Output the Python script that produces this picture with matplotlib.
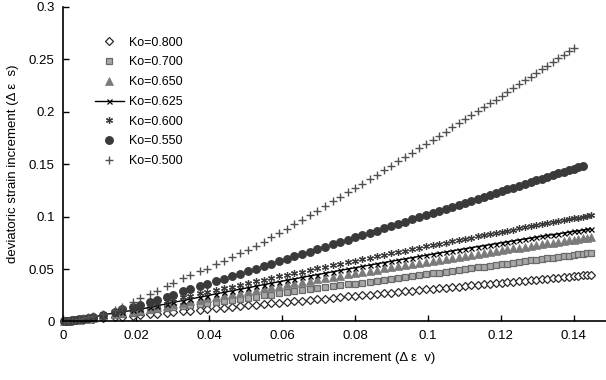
import matplotlib
matplotlib.use("Agg")
import matplotlib.pyplot as plt

plt.rcParams['font.family'] = ['Liberation Sans', 'DejaVu Sans']

# shared volumetric strain increment values (x)
dev_x = [0.0004, 0.0010, 0.0017, 0.0025, 0.0034, 0.0044, 0.0055, 0.0068, 0.0082,
         0.0110, 0.0142, 0.0161, 0.0192, 0.0211, 0.0238, 0.0258, 0.0285, 0.0302,
         0.0329, 0.0348, 0.0375, 0.0394, 0.0418, 0.0440, 0.0462, 0.0484, 0.0506,
         0.0528, 0.0550, 0.0571, 0.0592, 0.0613, 0.0634, 0.0655, 0.0676, 0.0697,
         0.0718, 0.0739, 0.0760, 0.0780, 0.0800, 0.0820, 0.0840, 0.0860, 0.0880,
         0.0900, 0.0919, 0.0938, 0.0957, 0.0976, 0.0995, 0.1013, 0.1031, 0.1049,
         0.1067, 0.1085, 0.1102, 0.1119, 0.1136, 0.1153, 0.1170, 0.1186, 0.1202,
         0.1218, 0.1234, 0.1250, 0.1266, 0.1282, 0.1297, 0.1312, 0.1327, 0.1342,
         0.1357, 0.1372, 0.1386, 0.1400, 0.1412, 0.1424, 0.1436, 0.1446]

y_k800 = [0.0001, 0.0003, 0.0005, 0.0007, 0.0010, 0.0013, 0.0016, 0.0020, 0.0024,
          0.0032, 0.0042, 0.0046, 0.0056, 0.0062, 0.0070, 0.0076, 0.0085, 0.0090,
          0.0098, 0.0104, 0.0113, 0.0119, 0.0126, 0.0133, 0.0140, 0.0147, 0.0153,
          0.0160, 0.0167, 0.0174, 0.0180, 0.0187, 0.0193, 0.0200, 0.0206, 0.0213,
          0.0219, 0.0226, 0.0232, 0.0239, 0.0245, 0.0251, 0.0257, 0.0263, 0.0270,
          0.0276, 0.0282, 0.0288, 0.0294, 0.0300, 0.0305, 0.0311, 0.0317, 0.0322,
          0.0328, 0.0333, 0.0339, 0.0344, 0.0349, 0.0355, 0.0360, 0.0365, 0.0370,
          0.0375, 0.0380, 0.0385, 0.0390, 0.0395, 0.0399, 0.0404, 0.0409, 0.0413,
          0.0418, 0.0423, 0.0427, 0.0431, 0.0435, 0.0439, 0.0443, 0.0446]

y_k700 = [0.0001, 0.0004, 0.0006, 0.0009, 0.0013, 0.0017, 0.0021, 0.0026, 0.0031,
          0.0052, 0.0065, 0.0073, 0.0085, 0.0093, 0.0106, 0.0115, 0.0127, 0.0135,
          0.0147, 0.0156, 0.0168, 0.0177, 0.0188, 0.0198, 0.0208, 0.0218, 0.0228,
          0.0238, 0.0248, 0.0257, 0.0267, 0.0277, 0.0286, 0.0296, 0.0305, 0.0315,
          0.0324, 0.0334, 0.0344, 0.0353, 0.0362, 0.0371, 0.0380, 0.0389, 0.0398,
          0.0407, 0.0416, 0.0425, 0.0433, 0.0442, 0.0451, 0.0459, 0.0467, 0.0475,
          0.0484, 0.0492, 0.0500, 0.0507, 0.0515, 0.0523, 0.0531, 0.0538, 0.0545,
          0.0552, 0.0560, 0.0567, 0.0574, 0.0582, 0.0588, 0.0595, 0.0602, 0.0609,
          0.0616, 0.0623, 0.0629, 0.0635, 0.0641, 0.0646, 0.0652, 0.0656]

y_k650 = [0.0002, 0.0004, 0.0007, 0.0010, 0.0014, 0.0018, 0.0023, 0.0028, 0.0034,
          0.0060, 0.0075, 0.0086, 0.0098, 0.0105, 0.0122, 0.0135, 0.0152, 0.0163,
          0.0180, 0.0192, 0.0208, 0.0220, 0.0235, 0.0249, 0.0262, 0.0275, 0.0289,
          0.0302, 0.0315, 0.0328, 0.0340, 0.0353, 0.0365, 0.0377, 0.0390, 0.0402,
          0.0414, 0.0426, 0.0438, 0.0450, 0.0461, 0.0472, 0.0484, 0.0495, 0.0506,
          0.0518, 0.0528, 0.0539, 0.0549, 0.0560, 0.0570, 0.0580, 0.0590, 0.0599,
          0.0609, 0.0619, 0.0628, 0.0637, 0.0646, 0.0655, 0.0664, 0.0672, 0.0680,
          0.0689, 0.0697, 0.0705, 0.0713, 0.0722, 0.0729, 0.0737, 0.0745, 0.0752,
          0.0760, 0.0767, 0.0774, 0.0781, 0.0787, 0.0793, 0.0799, 0.0804]

y_k625 = [0.0002, 0.0004, 0.0007, 0.0011, 0.0015, 0.0019, 0.0024, 0.0030, 0.0037,
          0.0065, 0.0080, 0.0093, 0.0105, 0.0116, 0.0135, 0.0150, 0.0169, 0.0181,
          0.0200, 0.0213, 0.0232, 0.0245, 0.0262, 0.0277, 0.0292, 0.0307, 0.0321,
          0.0336, 0.0351, 0.0365, 0.0379, 0.0393, 0.0406, 0.0420, 0.0434, 0.0447,
          0.0460, 0.0474, 0.0487, 0.0500, 0.0512, 0.0525, 0.0537, 0.0550, 0.0562,
          0.0574, 0.0586, 0.0597, 0.0609, 0.0620, 0.0631, 0.0642, 0.0653, 0.0663,
          0.0674, 0.0684, 0.0694, 0.0704, 0.0714, 0.0723, 0.0733, 0.0742, 0.0751,
          0.0760, 0.0769, 0.0778, 0.0787, 0.0795, 0.0804, 0.0812, 0.0820, 0.0828,
          0.0836, 0.0844, 0.0852, 0.0859, 0.0865, 0.0872, 0.0878, 0.0883]

y_k600 = [0.0002, 0.0005, 0.0008, 0.0012, 0.0016, 0.0021, 0.0026, 0.0032, 0.0040,
          0.0075, 0.0095, 0.0110, 0.0130, 0.0141, 0.0162, 0.0178, 0.0199, 0.0212,
          0.0232, 0.0247, 0.0267, 0.0282, 0.0300, 0.0316, 0.0333, 0.0349, 0.0366,
          0.0382, 0.0399, 0.0414, 0.0430, 0.0445, 0.0460, 0.0476, 0.0491, 0.0506,
          0.0521, 0.0536, 0.0551, 0.0565, 0.0580, 0.0594, 0.0608, 0.0622, 0.0636,
          0.0650, 0.0663, 0.0676, 0.0690, 0.0703, 0.0716, 0.0728, 0.0740, 0.0753,
          0.0765, 0.0777, 0.0788, 0.0800, 0.0811, 0.0823, 0.0834, 0.0845, 0.0855,
          0.0866, 0.0876, 0.0887, 0.0897, 0.0908, 0.0917, 0.0927, 0.0937, 0.0946,
          0.0956, 0.0966, 0.0975, 0.0984, 0.0991, 0.0999, 0.1007, 0.1013]

y_k550 = [0.0002, 0.0005, 0.0008, 0.0012, 0.0017, 0.0022, 0.0028, 0.0035, 0.0043,
          0.0062, 0.0090, 0.0115, 0.0140, 0.0157, 0.0186, 0.0208, 0.0238, 0.0256,
          0.0286, 0.0307, 0.0336, 0.0357, 0.0383, 0.0407, 0.0431, 0.0456, 0.0480,
          0.0504, 0.0528, 0.0551, 0.0574, 0.0597, 0.0620, 0.0643, 0.0666, 0.0689,
          0.0711, 0.0734, 0.0757, 0.0779, 0.0801, 0.0823, 0.0845, 0.0867, 0.0889,
          0.0911, 0.0931, 0.0952, 0.0973, 0.0994, 0.1015, 0.1034, 0.1054, 0.1074,
          0.1093, 0.1113, 0.1132, 0.1150, 0.1169, 0.1187, 0.1206, 0.1223, 0.1241,
          0.1259, 0.1276, 0.1294, 0.1311, 0.1329, 0.1345, 0.1361, 0.1378, 0.1394,
          0.1411, 0.1427, 0.1442, 0.1458, 0.1471, 0.1484]

y_k500 = [0.0002, 0.0005, 0.0009, 0.0013, 0.0018, 0.0024, 0.0031, 0.0040, 0.0052,
          0.0075, 0.0110, 0.0135, 0.0185, 0.0221, 0.0260, 0.0295, 0.0340, 0.0370,
          0.0410, 0.0443, 0.0480, 0.0505, 0.0545, 0.0580, 0.0615, 0.0650, 0.0685,
          0.0718, 0.0760, 0.0801, 0.0844, 0.0886, 0.0929, 0.0972, 0.1015, 0.1058,
          0.1102, 0.1145, 0.1189, 0.1231, 0.1273, 0.1315, 0.1358, 0.1400, 0.1443,
          0.1486, 0.1527, 0.1568, 0.1609, 0.1650, 0.1691, 0.1731, 0.1770, 0.1810,
          0.1850, 0.1890, 0.1927, 0.1965, 0.2003, 0.2041, 0.2080, 0.2116, 0.2152,
          0.2188, 0.2225, 0.2261, 0.2298, 0.2335, 0.2369, 0.2404, 0.2439, 0.2473,
          0.2508, 0.2543, 0.2576, 0.2609]

series_labels = ["Ko=0.800", "Ko=0.700", "Ko=0.650", "Ko=0.625",
                 "Ko=0.600", "Ko=0.550", "Ko=0.500"]
x_ticks = [0, 0.02, 0.04, 0.06, 0.08, 0.1, 0.12, 0.14]
x_tick_labels = ["0", "0.02", "0.04", "0.06", "0.08", "0.1", "0.12", "0.14"]
y_ticks = [0, 0.05, 0.1, 0.15, 0.2, 0.25, 0.3]
y_tick_labels = ["0", "0.05", "0.1", "0.15", "0.2", "0.25", "0.3"]

fig = plt.figure(figsize=(6.06, 3.80), dpi=100)
ax = fig.add_axes([0.104, 0.154, 0.896, 0.828])

series_y = [y_k800, y_k700, y_k650, y_k625, y_k600, y_k550, y_k500]
styles = [
    dict(marker='D', ms=4.4, mfc='white', mec='#2a2a2a', mew=0.9, ls='none'),
    dict(marker='s', ms=4.8, mfc='#a8a8a8', mec='#6a6a6a', mew=0.9, ls='none'),
    dict(marker='^', ms=5.2, mfc='#7a7a7a', mec='#7a7a7a', mew=0.5, ls='none'),
    dict(marker='x', ms=3.6, color='black', mew=0.9, ls='-', lw=1.0),
    dict(marker=(6, 2, 0), ms=5.0, color='#3a3a3a', mew=0.9, ls='none'),
    dict(marker='o', ms=5.4, mfc='#3a3a3a', mec='#3a3a3a', ls='none'),
    dict(marker='+', ms=5.5, color='#505050', mew=1.0, ls='none'),
]
for ys, lab, st in zip(series_y, series_labels, styles):
    ax.plot(dev_x[:len(ys)], ys, label=lab, clip_on=False, **st)

ax.set_xlim(0, 0.1488)
ax.set_ylim(0, 0.3)
ax.set_xticks(x_ticks)
ax.set_xticklabels(x_tick_labels)
ax.set_yticks(y_ticks)
ax.set_yticklabels(y_tick_labels)
ax.tick_params(direction='in', length=4, width=1, labelsize=9.5, colors='black', pad=6)
ax.spines['top'].set_visible(False)
ax.spines['right'].set_visible(False)
ax.spines['left'].set_linewidth(1.2)
ax.spines['bottom'].set_linewidth(1.2)

ax.set_xlabel("volumetric strain increment (Δ ε  v)", fontsize=9.5, labelpad=7)
ax.set_ylabel("deviatoric strain increment (Δ ε  s)", fontsize=9.5, labelpad=7)

ax.legend(loc='upper left', bbox_to_anchor=(0.059, 0.905), frameon=False,
          fontsize=9, handlelength=2.3, handletextpad=0.4, labelspacing=0.62,
          borderpad=0, borderaxespad=0, numpoints=1)

fig.savefig("out.png", dpi=100)
